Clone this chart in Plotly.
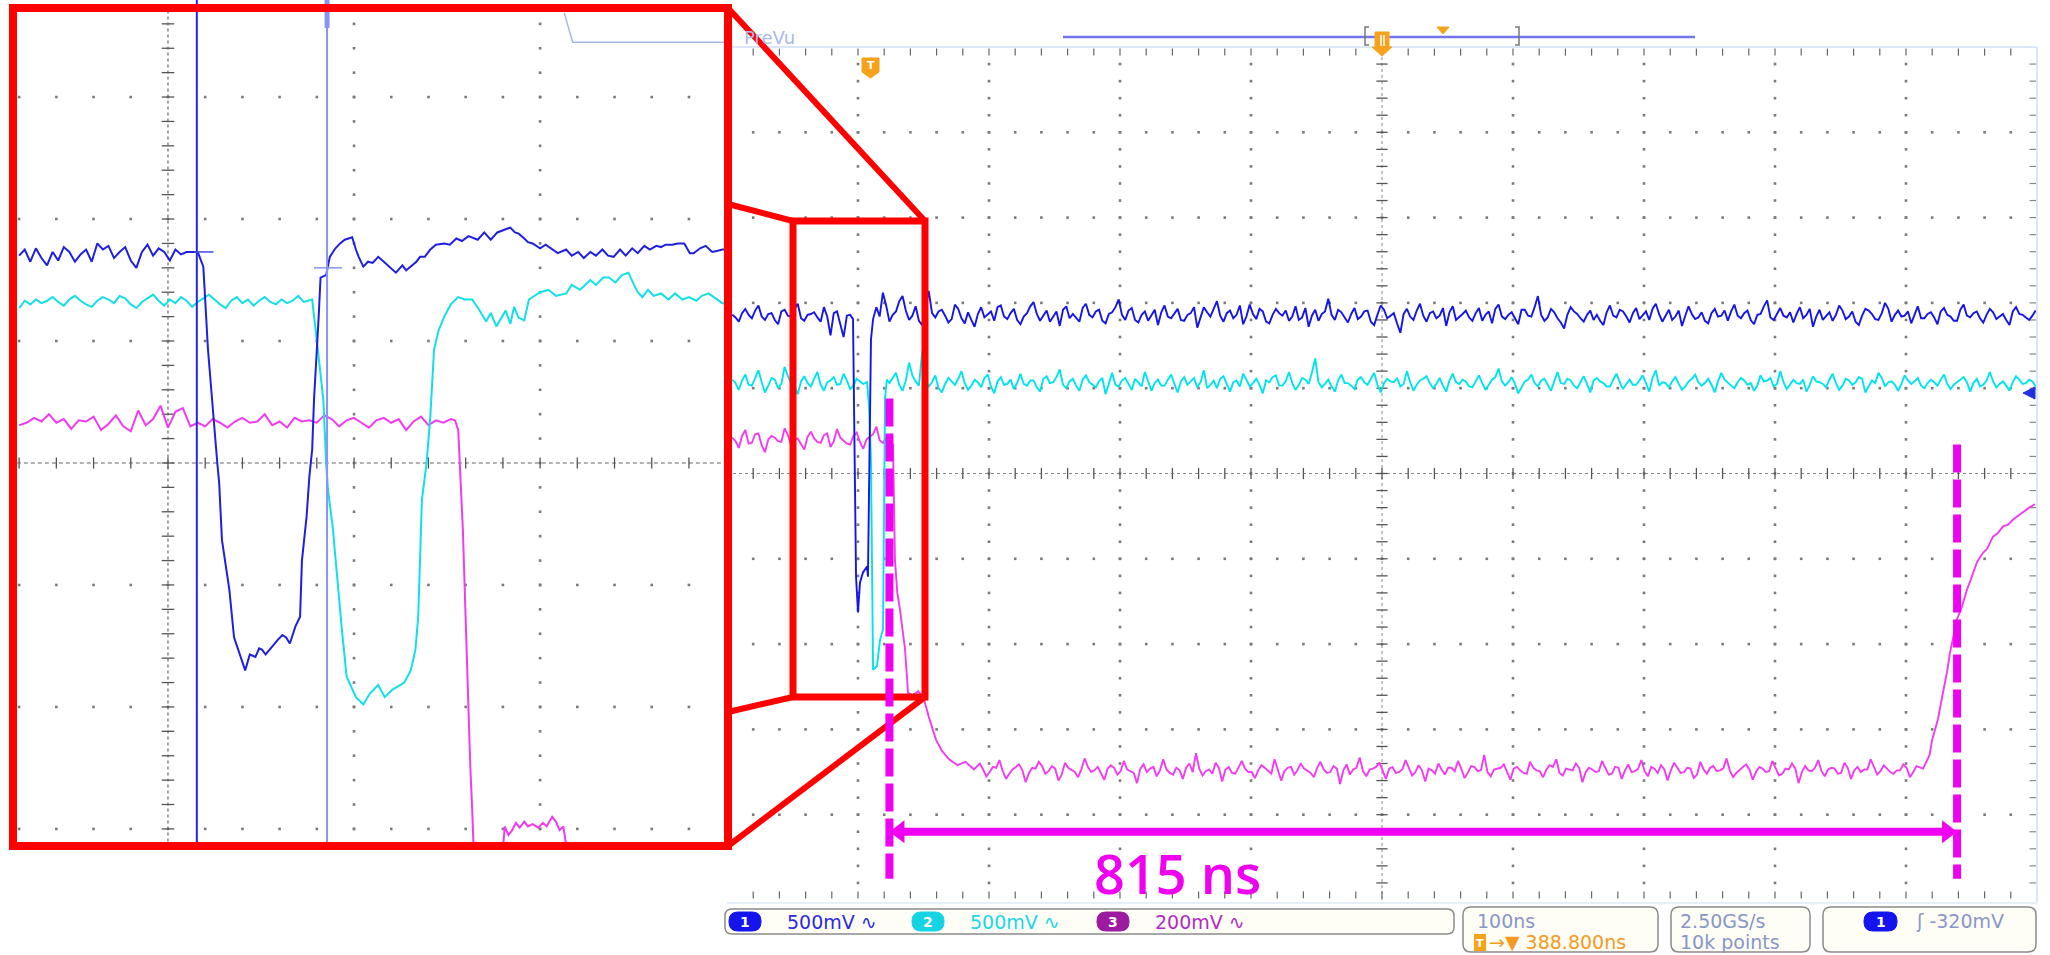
import numpy as np
import plotly.graph_objects as go

W, H = 2050, 955

# ================= DATA : main screen (100 ns/div, vertical in screen divisions) =================
# each noisy segment: samples at start + i*step, plus mid-samples at start + i*step + step/2
ch1_pre_start, ch1_pre_step = 4, 5
ch1_pre = [1.86, 1.78, 1.93, 1.82, 1.97, 1.80, 1.88, 1.75, 1.92, 1.84, 1.99, 1.79, 1.87, 1.83, 1.95,
           1.62, 1.90, 1.60, 1.86]
ch1_pre_mid = [1.83, 1.88, 1.86, 1.91, 1.84, 1.87, 1.80, 1.90, 1.85, 1.93, 1.82, 1.86, 1.89, 1.78, 1.84,
               1.88, 1.74, 1.85]
ch1_dip = [(96.2, 1.81), (97.7, 0.13), (98.5, -1.21), (100.0, -1.63), (101.5, -1.28), (103.8, -1.16),
           (106.9, -1.09), (107.6, -1.21), (109.2, 0.87), (109.9, 1.57), (111.5, 1.81)]
ch1_post_start, ch1_post_step = 114, 5
ch1_post = [1.95, 2.12, 1.78, 1.90, 2.08, 1.80, 1.96, 1.74, 2.14, 1.83,
            1.92, 1.77, 1.98, 1.82, 1.89, 1.72, 1.95, 1.86, 1.79, 1.97,
            1.81, 1.93, 1.75, 1.88, 2.01, 1.79, 1.91, 1.84, 1.73, 1.96,
            1.87, 1.78, 1.99, 1.83, 1.92, 1.76, 1.89, 2.04, 1.80, 1.94,
            1.77, 1.90, 1.85, 1.74, 1.97, 1.82, 1.93, 1.79, 1.88, 1.71,
            1.95, 1.84, 2.02, 1.78, 1.91, 1.86, 1.75, 1.98, 1.81, 1.90,
            1.76, 1.93, 1.85, 1.79, 1.96, 1.83, 1.72, 1.92, 1.87, 2.05,
            1.80, 1.89, 1.77, 1.94, 1.84, 1.91, 1.74, 1.97, 1.82, 1.88,
            1.65, 1.93, 1.80, 1.99, 1.78, 1.90, 1.85, 1.73, 1.96, 1.83,
            1.91, 1.79, 1.94, 1.86, 1.76, 1.98, 1.81, 1.89, 1.75, 1.92,
            1.84, 2.08, 1.79, 1.93, 1.82, 1.70, 1.95, 1.87, 1.78, 1.91,
            1.86, 1.74, 1.97, 1.83, 1.90, 1.77, 1.94, 1.85, 1.80, 1.99,
            1.78, 1.92, 1.84, 1.73, 1.96, 1.81, 1.89, 1.76, 1.93, 1.85,
            1.79, 1.98, 1.82, 1.91, 1.75, 1.87, 2.03, 1.80, 1.94, 1.83,
            1.77, 1.95, 1.86, 1.72, 1.92, 1.84, 1.79, 1.97, 1.81, 1.90,
            1.74, 1.93, 1.87, 1.80, 2.00, 1.78, 1.91, 1.85, 1.76, 1.96,
            1.82, 1.89, 1.75, 1.94, 1.84, 1.79, 1.98, 1.83, 1.90, 1.77,
            1.93, 1.81, 1.87, 1.74, 1.95, 1.86, 1.80, 1.91]
ch1_post_mid = [1.84, 1.97, 1.86, 2.02, 1.91, 1.85, 1.79, 1.94, 1.88, 1.90,
                1.85, 1.81, 1.93, 1.76, 1.80, 1.87, 1.83, 1.90, 1.95, 1.84,
                1.88, 1.80, 1.84, 1.96, 1.87, 1.85, 1.78, 1.90, 1.92, 1.82,
                1.83, 1.94, 1.86, 1.90, 1.79, 1.87, 1.95, 1.86, 1.91, 1.80,
                1.86, 1.79, 1.92, 1.89, 1.84, 1.88, 1.80, 1.86, 1.95, 1.83,
                1.89, 1.93, 1.85, 1.88, 1.82, 1.97, 1.84, 1.87, 1.93, 1.78,
                1.86, 1.88, 1.91, 1.84, 1.80, 1.94, 1.85, 1.79, 1.90, 1.86,
                1.92, 1.83, 1.87, 1.81, 1.90, 1.78, 1.86, 1.92, 1.85, 1.76,
                1.87, 1.84, 1.91, 1.85, 1.88, 1.82, 1.94, 1.89, 1.80, 1.87,
                1.83, 1.88, 1.79, 1.90, 1.93, 1.84, 1.86, 1.81, 1.92, 1.85,
                1.95, 1.86, 1.83, 1.89, 1.77, 1.86, 1.90, 1.82, 1.86, 1.80,
                1.79, 1.89, 1.85, 1.92, 1.84, 1.88, 1.81, 1.90, 1.93, 1.87,
                1.86, 1.80, 1.91, 1.85, 1.87, 1.83, 1.79, 1.88, 1.84, 1.91,
                1.90, 1.85, 1.88, 1.80, 1.86, 1.96, 1.83, 1.87, 1.85, 1.89,
                1.87, 1.82, 1.93, 1.84, 1.80, 1.89, 1.86, 1.91, 1.84, 1.78,
                1.85, 1.91, 1.81, 1.88, 1.93, 1.86, 1.84, 1.90, 1.87, 1.82,
                1.87, 1.83, 1.90, 1.86, 1.79, 1.92, 1.85, 1.88, 1.82, 1.86,
                1.89, 1.84, 1.80, 1.90, 1.87, 1.83, 1.85]

ch2_pre_start, ch2_pre_step = 4, 5
ch2_pre = [1.10, 0.98, 1.16, 1.03, 1.21, 0.95, 1.12, 1.00, 1.25, 1.06, 0.93, 1.14, 1.02, 1.19, 0.97,
           1.09, 1.04, 1.17, 0.99, 1.11, 1.05]
ch2_pre_mid = [1.06, 1.09, 1.04, 1.12, 1.07, 1.03, 1.10, 1.05, 1.14, 1.02, 1.08, 1.06, 1.11, 1.04, 1.07,
               1.13, 1.05, 1.09, 1.03, 1.08]
ch2_dip = [(106.9, 1.07), (108.4, 0.79), (109.9, 0.16), (110.7, -1.68), (111.5, -2.30), (114.5, -2.26),
           (116.8, -1.95), (119.1, -1.83), (119.8, 0.08), (120.6, 0.87), (122.0, 1.10)]
ch2_post_start, ch2_post_step = 124, 5
ch2_post = [1.06, 1.18, 0.97, 1.30, 1.08, 1.43, 1.02, 1.15, 0.95, 1.12,
            1.04, 1.20, 0.98, 1.10, 1.01, 1.16, 0.94, 1.13, 1.05, 0.99,
            1.17, 1.03, 1.09, 0.96, 1.14, 1.07, 1.22, 1.00, 1.11, 0.97,
            1.15, 1.04, 1.08, 0.93, 1.18, 1.02, 1.12, 0.98, 1.06, 1.19,
            0.97, 1.10, 1.03, 1.16, 0.95, 1.13, 1.08, 1.01, 1.21, 1.04,
            1.00, 1.14, 0.96, 1.09, 1.17, 1.02, 1.11, 0.94, 1.07, 1.15,
            1.03, 1.19, 0.98, 1.12, 1.05, 1.35, 1.01, 1.10, 0.96, 1.16,
            1.06, 0.99, 1.13, 1.04, 1.18, 0.95, 1.11, 1.07, 1.02, 1.20,
            0.97, 1.09, 1.14, 1.00, 1.12, 0.96, 1.17, 1.05, 1.08, 1.01,
            1.15, 0.98, 1.10, 1.23, 1.03, 1.13, 0.94, 1.08, 1.16, 1.02,
            1.11, 0.97, 1.19, 1.05, 1.09, 1.00, 1.14, 0.95, 1.12, 1.06,
            1.02, 1.17, 0.99, 1.10, 1.04, 1.15, 0.96, 1.21, 1.07, 1.01,
            1.13, 0.98, 1.08, 1.16, 1.03, 1.11, 0.95, 1.18, 1.06, 1.00,
            1.12, 1.04, 0.97, 1.15, 1.09, 1.02, 1.20, 0.99, 1.10, 1.05,
            0.96, 1.14, 1.07, 1.01, 1.17, 0.98, 1.11, 1.04, 1.13, 0.95,
            1.09, 1.18, 1.02, 1.08, 0.97, 1.15, 1.05, 1.12, 1.00, 1.10,
            1.03, 1.16, 0.99, 1.07, 1.13, 0.96, 1.11, 1.04, 1.19, 1.01,
            1.08, 0.97, 1.14, 1.05, 1.10, 1.02]
ch2_post_mid = [1.12, 1.04, 1.09, 1.15, 1.03, 1.10, 1.07, 1.00, 1.05, 1.08,
                1.11, 1.06, 1.03, 1.07, 1.12, 1.02, 1.08, 1.04, 1.10, 1.06,
                1.05, 1.09, 1.01, 1.11, 1.06, 1.13, 1.04, 1.08, 1.03, 1.10,
                1.07, 1.01, 1.12, 1.06, 1.04, 1.09, 1.05, 1.11, 1.02, 1.08,
                1.06, 1.03, 1.10, 1.05, 1.08, 1.04, 1.12, 1.07, 1.00, 1.09,
                1.11, 1.05, 1.07, 1.02, 1.10, 1.06, 1.04, 1.09, 1.13, 1.03,
                1.08, 1.06, 1.04, 1.10, 1.18, 1.07, 1.05, 1.02, 1.09, 1.06,
                1.03, 1.10, 1.07, 1.11, 1.04, 1.06, 1.08, 1.12, 1.05, 1.07,
                1.04, 1.11, 1.06, 1.05, 1.03, 1.09, 1.07, 1.10, 1.02, 1.08,
                1.06, 1.04, 1.13, 1.08, 1.07, 1.05, 1.01, 1.10, 1.06, 1.09,
                1.04, 1.08, 1.06, 1.11, 1.03, 1.07, 1.05, 1.09, 1.08, 1.02,
                1.10, 1.07, 1.05, 1.04, 1.09, 1.06, 1.12, 1.03, 1.06, 1.08,
                1.05, 1.02, 1.11, 1.07, 1.06, 1.04, 1.08, 1.10, 1.03, 1.07,
                1.09, 1.06, 1.03, 1.08, 1.12, 1.05, 1.07, 1.04, 1.06, 1.10,
                1.04, 1.08, 1.05, 1.10, 1.06, 1.03, 1.09, 1.07, 1.11, 1.02,
                1.06, 1.12, 1.07, 1.04, 1.05, 1.09, 1.08, 1.03, 1.06, 1.07,
                1.10, 1.05, 1.04, 1.11, 1.07, 1.06, 1.02, 1.09, 1.08, 1.05,
                1.03, 1.07, 1.10, 1.06, 1.08]

ch3_pre_start, ch3_pre_step = 4, 5
ch3_pre = [0.42, 0.30, 0.51, 0.36, 0.47, 0.25, 0.44, 0.38, 0.53, 0.33, 0.41, 0.28, 0.49, 0.37, 0.45,
           0.31, 0.52, 0.39, 0.34, 0.48, 0.29, 0.43, 0.55, 0.36, 0.40]
ch3_pre_mid = [0.38, 0.44, 0.35, 0.46, 0.33, 0.40, 0.42, 0.37, 0.45, 0.39, 0.34, 0.43, 0.41, 0.36, 0.47,
               0.38, 0.42, 0.35, 0.44, 0.37, 0.40, 0.46, 0.39, 0.41]
ch3_fall = [(126.7, 0.34), (128.2, -1.01), (130.0, -1.40), (132.0, -1.59), (133.6, -1.79), (135.9, -2.06),
            (138.2, -2.57), (142.0, -2.60), (146.0, -2.55), (150.4, -2.65), (154.0, -2.85), (159.5, -3.12),
            (164.0, -3.25), (169.5, -3.35), (176.0, -3.42), (182.0, -3.38), (188.5, -3.47)]
ch3_low_start, ch3_low_step = 193, 5
ch3_low = [-3.40, -3.55, -3.44, -3.36, -3.58, -3.47, -3.41, -3.62, -3.45, -3.38,
           -3.52, -3.43, -3.60, -3.39, -3.48, -3.56, -3.34, -3.50, -3.44, -3.59,
           -3.42, -3.53, -3.37, -3.49, -3.63, -3.41, -3.46, -3.55, -3.35, -3.51,
           -3.45, -3.58, -3.40, -3.28, -3.54, -3.47, -3.39, -3.61, -3.44, -3.52,
           -3.37, -3.50, -3.57, -3.42, -3.48, -3.35, -3.60, -3.45, -3.53, -3.40,
           -3.49, -3.56, -3.38, -3.51, -3.43, -3.64, -3.41, -3.47, -3.33, -3.55,
           -3.46, -3.39, -3.58, -3.44, -3.50, -3.36, -3.54, -3.42, -3.61, -3.48,
           -3.40, -3.53, -3.45, -3.37, -3.57, -3.43, -3.49, -3.30, -3.55, -3.46,
           -3.41, -3.59, -3.44, -3.51, -3.38, -3.48, -3.56, -3.42, -3.35, -3.54,
           -3.47, -3.40, -3.62, -3.45, -3.50, -3.37, -3.53, -3.44, -3.58, -3.41,
           -3.49, -3.36, -3.55, -3.46, -3.42, -3.60, -3.39, -3.51, -3.45, -3.57,
           -3.38, -3.52, -3.43, -3.48, -3.34, -3.56, -3.47, -3.41, -3.59, -3.44,
           -3.50, -3.37, -3.54, -3.46, -3.40, -3.63, -3.43, -3.49, -3.36, -3.55,
           -3.45, -3.52, -3.39, -3.58, -3.44, -3.47, -3.35, -3.53, -3.42, -3.50,
           -3.48, -3.41, -3.56, -3.43]
ch3_low_mid = [-3.47, -3.50, -3.45, -3.49, -3.52, -3.44, -3.48, -3.51, -3.46, -3.43,
               -3.49, -3.46, -3.53, -3.45, -3.50, -3.47, -3.44, -3.48, -3.52, -3.46,
               -3.45, -3.49, -3.47, -3.51, -3.46, -3.50, -3.44, -3.48, -3.47, -3.53,
               -3.48, -3.45, -3.50, -3.46, -3.49, -3.52, -3.45, -3.47, -3.51, -3.44,
               -3.46, -3.50, -3.48, -3.45, -3.52, -3.47, -3.49, -3.44, -3.48, -3.46,
               -3.51, -3.45, -3.47, -3.50, -3.46, -3.48, -3.53, -3.45, -3.49, -3.47,
               -3.44, -3.49, -3.46, -3.51, -3.47, -3.45, -3.50, -3.48, -3.46, -3.52,
               -3.47, -3.45, -3.49, -3.46, -3.51, -3.44, -3.48, -3.50, -3.47, -3.45,
               -3.50, -3.46, -3.48, -3.52, -3.45, -3.49, -3.47, -3.44, -3.51, -3.46,
               -3.48, -3.45, -3.50, -3.47, -3.49, -3.46, -3.52, -3.45, -3.48, -3.50,
               -3.46, -3.49, -3.44, -3.51, -3.47, -3.48, -3.45, -3.50, -3.46, -3.53,
               -3.47, -3.45, -3.49, -3.46, -3.48, -3.51, -3.44, -3.47, -3.50, -3.46,
               -3.49, -3.45, -3.52, -3.47, -3.46, -3.50, -3.48, -3.45, -3.49, -3.47,
               -3.46, -3.51, -3.45, -3.48, -3.50, -3.47, -3.44, -3.49, -3.46, -3.52,
               -3.48, -3.45, -3.50]
ch3_rise = [(913.0, -3.46), (918.0, -3.30), (920.0, -3.12), (924.4, -2.88), (928.2, -2.57), (931.3, -2.33),
            (933.6, -2.10), (938.9, -1.71), (942.7, -1.56), (946.6, -1.36), (950.0, -1.22), (954.2, -1.04),
            (958.8, -0.93), (962.0, -0.88), (966.4, -0.74), (970.0, -0.70), (974.0, -0.62), (978.0, -0.60),
            (981.7, -0.54), (985.0, -0.50), (989.3, -0.45), (994.0, -0.40), (998.5, -0.36)]

pulse_start_ns, pulse_end_ns = 124, 939
pulse_label = "815 ns"

# ================= DATA : zoomed inset (20 ns/div, vertical in inset divisions) =================
in1_pre_start, in1_pre_step = 84.0, 0.6
in1_pre = [1.70, 1.75, 1.65, 1.76, 1.68, 1.62, 1.73, 1.66, 1.77, 1.73, 1.65, 1.71, 1.75, 1.65, 1.80,
           1.75, 1.78, 1.68, 1.73, 1.77, 1.66, 1.60, 1.73, 1.79, 1.70, 1.76, 1.73, 1.66, 1.75, 1.71, 1.73]
in1_rest = [(103.2, 1.73), (103.8, 1.61), (104.3, 0.93), (105.3, 0.00), (105.5, -0.16), (105.8, -0.63),
            (106.6, -1.04), (107.1, -1.43), (107.8, -1.59), (108.3, -1.70), (108.8, -1.57), (109.4, -1.59),
            (109.8, -1.52), (110.1, -1.53), (110.5, -1.57), (110.9, -1.53), (111.3, -1.49), (111.8, -1.45),
            (112.3, -1.41), (112.7, -1.43), (113.1, -1.48), (113.7, -1.34), (114.2, -1.26), (114.4, -0.80),
            (114.9, -0.44), (115.2, -0.11), (115.5, 0.11), (115.7, 0.52), (116.2, 1.20), (116.4, 1.52),
            (117.0, 1.54), (117.4, 1.69), (118.0, 1.76), (118.5, 1.80), (119.0, 1.83), (119.8, 1.85),
            (120.2, 1.75), (120.5, 1.69), (121.0, 1.61), (121.5, 1.65), (122.0, 1.64), (122.6, 1.69),
            (123.2, 1.65), (123.9, 1.60), (124.5, 1.56), (125.2, 1.62), (125.6, 1.58), (126.1, 1.61),
            (126.7, 1.65), (127.1, 1.69), (127.6, 1.69), (128.2, 1.75), (128.8, 1.79), (129.7, 1.80),
            (130.3, 1.79), (131.0, 1.84), (131.6, 1.82), (132.3, 1.86), (132.7, 1.85), (133.3, 1.83),
            (134.0, 1.89), (134.7, 1.83), (135.4, 1.89), (136.0, 1.91), (136.8, 1.93), (137.3, 1.89),
            (137.7, 1.88), (138.3, 1.84), (138.7, 1.81), (139.2, 1.80), (140.0, 1.76), (140.6, 1.79),
            (141.3, 1.75), (141.9, 1.72), (142.8, 1.75), (143.4, 1.70), (144.1, 1.73), (144.7, 1.68),
            (145.4, 1.73), (146.0, 1.70), (146.7, 1.75), (147.3, 1.70), (147.9, 1.69), (148.6, 1.75),
            (149.2, 1.70), (149.9, 1.76), (150.5, 1.72), (151.2, 1.78), (151.8, 1.75), (152.5, 1.78),
            (153.0, 1.77), (153.5, 1.79), (154.2, 1.79), (154.8, 1.80), (155.5, 1.80), (156.1, 1.72),
            (156.5, 1.72), (157.2, 1.76), (157.8, 1.78), (158.5, 1.73), (159.1, 1.74), (159.6, 1.75),
            (160.3, 1.75)]

in2_pre_start, in2_pre_step = 84.0, 0.6
in2_pre = [1.27, 1.33, 1.30, 1.34, 1.31, 1.33, 1.36, 1.32, 1.29, 1.34,
           1.37, 1.33, 1.30, 1.28, 1.33, 1.36, 1.34, 1.31, 1.37, 1.35,
           1.30, 1.27, 1.32, 1.35, 1.38, 1.33, 1.29, 1.34, 1.31, 1.36,
           1.33, 1.28, 1.32, 1.35, 1.38, 1.34, 1.30, 1.27, 1.33, 1.36,
           1.31, 1.34, 1.29, 1.33, 1.36, 1.32, 1.30, 1.34, 1.31, 1.33,
           1.37, 1.32]
in2_rest = [(115.5, 1.34), (115.9, 1.07), (116.7, 0.52), (117.0, 0.00), (117.2, -0.22), (117.7, -0.52),
            (118.2, -0.98), (118.7, -1.37), (119.2, -1.75), (120.2, -1.92), (121.0, -1.98), (121.7, -1.89),
            (122.6, -1.82), (123.3, -1.92), (124.1, -1.86), (124.7, -1.83), (125.4, -1.80), (126.1, -1.70),
            (126.6, -1.53), (126.9, -1.26), (127.1, -0.71), (127.3, -0.30), (127.8, 0.00), (128.2, 0.38),
            (128.6, 0.93), (129.1, 1.09), (129.7, 1.20), (130.4, 1.30), (131.2, 1.36), (131.9, 1.34),
            (132.7, 1.34), (133.5, 1.25), (134.2, 1.16), (134.7, 1.23), (135.3, 1.12), (135.7, 1.17),
            (136.3, 1.25), (136.8, 1.14), (137.2, 1.28), (137.7, 1.19), (138.3, 1.17), (138.8, 1.34),
            (139.2, 1.36), (140.0, 1.40), (140.9, 1.42), (141.7, 1.37), (142.8, 1.39), (143.4, 1.46),
            (144.3, 1.42), (145.4, 1.50), (146.0, 1.46), (146.8, 1.52), (147.4, 1.52), (148.1, 1.48),
            (148.8, 1.54), (149.5, 1.56), (150.1, 1.46), (150.5, 1.40), (151.0, 1.36), (151.6, 1.42),
            (152.2, 1.37), (153.0, 1.39), (153.8, 1.34), (154.5, 1.39), (155.3, 1.34), (156.0, 1.36),
            (156.8, 1.33), (157.4, 1.37), (158.1, 1.39), (158.8, 1.35), (159.6, 1.31), (160.3, 1.31)]

in3_pre_start, in3_pre_step = 84.0, 0.8
in3_pre = [0.31, 0.33, 0.37, 0.34, 0.40, 0.33, 0.36, 0.28, 0.35, 0.34,
           0.38, 0.27, 0.32, 0.39, 0.30, 0.26, 0.43, 0.31, 0.36, 0.47,
           0.29, 0.42, 0.45, 0.30, 0.33, 0.30, 0.36, 0.33, 0.29, 0.34,
           0.37, 0.33, 0.34, 0.40, 0.31, 0.34, 0.29, 0.37, 0.34, 0.35,
           0.33, 0.39, 0.36, 0.30, 0.35, 0.37, 0.33, 0.29, 0.35, 0.37,
           0.33, 0.36, 0.27, 0.34, 0.38, 0.31, 0.35, 0.33, 0.36]
in3_fall = [(130.85, 0.35), (131.2, 0.27), (131.4, -0.06), (131.7, -0.55), (131.9, -1.04), (132.1, -1.59),
            (132.5, -2.49), (132.7, -2.84), (132.9, -3.25)]
in3_tail = [(136.0, -3.17), (136.2, -2.98), (136.6, -3.05), (137.0, -3.01), (137.4, -2.95), (137.8, -2.99),
            (138.3, -2.94), (138.7, -2.98), (139.2, -2.96), (139.8, -2.99), (140.3, -2.95), (140.7, -2.98),
            (141.3, -2.90), (141.7, -2.94), (142.1, -3.01), (142.5, -2.98), (142.8, -3.13), (142.9, -3.25)]

in_cursor_a, in_cursor_b = 103.1, 117.1
in_cursor_ticks = [(102.8, 104.9, 1.73), (115.7, 118.7, 1.60)]
in_prevu = [(142.6, 3.69), (143.5, 3.45), (160.3, 3.45)]

status_ch = [("1", "500mV \u223f"), ("2", "500mV \u223f"), ("3", "200mV \u223f")]
status_time = ("100ns", "388.800ns")
status_rate = ("2.50GS/s", "10k points")
status_trig = ("1", "\u0283 -320mV")

# ================= colours =================
C1, C2, C3 = "#1515e6", "#00e4ee", "#f23cf2"
C1_IN, C2_IN, C3_IN = "#1f1fe0", "#12dfe8", "#f03cf0"
MAG = "#f000f0"
RED = "#ff0000"
GRID = "#7a7a7a"


def X(px):
    return px / W


def Y(py):
    return 1 - py / H


def seg(start, step, vals, mids=()):
    xs, ys = [], []
    for i, v in enumerate(vals):
        xs.append(start + i * step); ys.append(v)
        if i < len(mids):
            xs.append(start + i * step + step / 2); ys.append(mids[i])
    return xs, ys


def pairs(lst):
    return [p[0] for p in lst], [p[1] for p in lst]


def join(*parts):
    xs, ys = [], []
    for a, b in parts:
        xs += a
        ys += b
    return xs, ys


fig = go.Figure()

# ---------------- main graticule ----------------
minor_y = np.round(np.arange(-5, 5.0001, 0.2), 3)
minor_x = np.arange(0, 1000.1, 20)
gx, gy = [], []
for cx in range(100, 1000, 100):
    if cx == 500:
        continue
    for yy in minor_y[1:-1]:
        gx.append(cx); gy.append(yy)
for ry in [-4, -3, -2, -1, 1, 2, 3, 4]:
    for xx in minor_x[1:-1]:
        gx.append(xx); gy.append(ry)
fig.add_trace(go.Scatter(x=gx, y=gy, mode="markers", xaxis="x", yaxis="y",
                         marker=dict(size=2.6, color=GRID, symbol="square"), hoverinfo="skip"))
fig.add_trace(go.Scatter(x=list(minor_x[1:-1]), y=[0] * (len(minor_x) - 2), mode="markers",
                         marker=dict(symbol="line-ns", size=8, line=dict(width=1.3, color="#555")),
                         hoverinfo="skip"))
fig.add_trace(go.Scatter(x=[500] * (len(minor_y) - 2), y=list(minor_y[1:-1]), mode="markers",
                         marker=dict(symbol="line-ew", size=8, line=dict(width=1.3, color="#555")),
                         hoverinfo="skip"))
fig.add_trace(go.Scatter(x=list(minor_x[1:-1]) * 2, y=[4.94] * (len(minor_x) - 2) + [-4.94] * (len(minor_x) - 2),
                         mode="markers",
                         marker=dict(symbol="line-ns", size=5, line=dict(width=1.2, color="#666")),
                         hoverinfo="skip"))
fig.add_trace(go.Scatter(x=[997] * (len(minor_y) - 2), y=list(minor_y[1:-1]), mode="markers",
                         marker=dict(symbol="line-ew", size=5, line=dict(width=1.2, color="#888")),
                         hoverinfo="skip"))

# ---------------- main traces ----------------
t1, v1 = join(seg(ch1_pre_start, ch1_pre_step, ch1_pre, ch1_pre_mid), pairs(ch1_dip),
              seg(ch1_post_start, ch1_post_step, ch1_post, ch1_post_mid))
t2, v2 = join(seg(ch2_pre_start, ch2_pre_step, ch2_pre, ch2_pre_mid), pairs(ch2_dip),
              seg(ch2_post_start, ch2_post_step, ch2_post, ch2_post_mid))
t3, v3 = join(seg(ch3_pre_start, ch3_pre_step, ch3_pre, ch3_pre_mid), pairs(ch3_fall),
              seg(ch3_low_start, ch3_low_step, ch3_low, ch3_low_mid), pairs(ch3_rise))
fig.add_trace(go.Scatter(x=t3, y=v3, mode="lines", line=dict(color=C3, width=1.9), hoverinfo="skip"))
fig.add_trace(go.Scatter(x=t2, y=v2, mode="lines", line=dict(color=C2, width=1.9), hoverinfo="skip"))
fig.add_trace(go.Scatter(x=t1, y=v1, mode="lines", line=dict(color=C1, width=1.9), hoverinfo="skip"))

# ---------------- inset graticule ----------------
in_minor_y = np.round(np.arange(-3.0, 3.61, 0.2), 3)
in_minor_x = np.arange(84, 160.1, 4)
ix, iy = [], []
for cx in [120, 140]:
    for yy in in_minor_y:
        ix.append(cx); iy.append(yy)
for ry in [-3, -2, -1, 1, 2, 3]:
    for xx in in_minor_x:
        ix.append(xx); iy.append(ry)
fig.add_trace(go.Scatter(x=ix, y=iy, mode="markers", xaxis="x2", yaxis="y2",
                         marker=dict(size=2.6, color=GRID, symbol="square"), hoverinfo="skip"))
fig.add_trace(go.Scatter(x=list(in_minor_x), y=[0] * len(in_minor_x), mode="markers", xaxis="x2", yaxis="y2",
                         marker=dict(symbol="line-ns", size=8, line=dict(width=1.3, color="#555")),
                         hoverinfo="skip"))
fig.add_trace(go.Scatter(x=[100] * len(in_minor_y), y=list(in_minor_y), mode="markers", xaxis="x2", yaxis="y2",
                         marker=dict(symbol="line-ew", size=9, line=dict(width=1.3, color="#555")),
                         hoverinfo="skip"))

# ---------------- inset traces ----------------
a1 = join(seg(in1_pre_start, in1_pre_step, in1_pre), pairs(in1_rest))
a2 = join(seg(in2_pre_start, in2_pre_step, in2_pre), pairs(in2_rest))
a3 = join(seg(in3_pre_start, in3_pre_step, in3_pre), pairs(in3_fall))
a3t = pairs(in3_tail)
for (xx, yy), col in [(a3, C3_IN), (a3t, C3_IN), (a2, C2_IN), (a1, C1_IN)]:
    fig.add_trace(go.Scatter(x=xx, y=yy, mode="lines", xaxis="x2", yaxis="y2",
                             line=dict(color=col, width=2), hoverinfo="skip"))

shapes = []
shapes.append(dict(type="line", xref="x", yref="y", x0=0, x1=1000, y0=0, y1=0,
                   line=dict(color="#888", width=1, dash="3px,3px"), layer="below"))
shapes.append(dict(type="line", xref="x", yref="y", x0=500, x1=500, y0=-5, y1=5,
                   line=dict(color="#888", width=1, dash="3px,3px"), layer="below"))
shapes.append(dict(type="line", xref="x2", yref="y2", x0=83, x1=161, y0=0, y1=0,
                   line=dict(color="#666", width=1.2, dash="4px,3px"), layer="below"))
shapes.append(dict(type="line", xref="x2", yref="y2", x0=100, x1=100, y0=-3.3, y1=3.9,
                   line=dict(color="#666", width=1.2, dash="3px,3px"), layer="below"))
shapes.append(dict(type="line", xref="paper", yref="paper", x0=X(727), x1=X(2037), y0=Y(47), y1=Y(47),
                   line=dict(color="#dbe6f6", width=2)))
shapes.append(dict(type="line", xref="paper", yref="paper", x0=X(2037), x1=X(2037), y0=Y(47), y1=Y(902),
                   line=dict(color="#dbe6f6", width=2)))
shapes.append(dict(type="line", xref="paper", yref="paper", x0=X(727), x1=X(2037), y0=Y(903), y1=Y(903),
                   line=dict(color="#e6eef9", width=2)))

shapes.append(dict(type="line", xref="x2", yref="paper", x0=in_cursor_a, x1=in_cursor_a, y0=Y(846), y1=Y(0),
                   line=dict(color="#2626e6", width=2)))
shapes.append(dict(type="line", xref="x2", yref="paper", x0=in_cursor_b, x1=in_cursor_b, y0=Y(846), y1=Y(0),
                   line=dict(color="#8794f2", width=2)))
shapes.append(dict(type="line", xref="x2", yref="paper", x0=in_cursor_b, x1=in_cursor_b, y0=Y(28), y1=Y(0),
                   line=dict(color="#8794f2", width=5)))
shapes.append(dict(type="line", xref="x2", yref="y2", x0=in_cursor_ticks[0][0], x1=in_cursor_ticks[0][1],
                   y0=in_cursor_ticks[0][2], y1=in_cursor_ticks[0][2], line=dict(color="#4a4ae8", width=1.5)))
shapes.append(dict(type="line", xref="x2", yref="y2", x0=in_cursor_ticks[1][0], x1=in_cursor_ticks[1][1],
                   y0=in_cursor_ticks[1][2], y1=in_cursor_ticks[1][2], line=dict(color="#8794f2", width=1.5)))
pv = " ".join(("M" if i == 0 else "L") + f"{p[0]},{p[1]}" for i, p in enumerate(in_prevu))
shapes.append(dict(type="path", xref="x2", yref="y2", path=pv, line=dict(color="#a9b6ea", width=1.5)))

shapes.append(dict(type="rect", xref="paper", yref="paper", x0=X(13), x1=X(728), y0=Y(846), y1=Y(8),
                   line=dict(color=RED, width=8)))
shapes.append(dict(type="rect", xref="paper", yref="paper", x0=X(793), x1=X(925), y0=Y(697), y1=Y(221),
                   line=dict(color=RED, width=7)))
for (xa, ya, xb, yb) in [(728, 8, 925, 221), (728, 204, 793, 221), (728, 712, 793, 697), (728, 846, 925, 697)]:
    shapes.append(dict(type="line", xref="paper", yref="paper", x0=X(xa), y0=Y(ya), x1=X(xb), y1=Y(yb),
                       line=dict(color=RED, width=6)))

shapes.append(dict(type="line", xref="x", yref="y", x0=pulse_start_ns, x1=pulse_start_ns, y0=0.88, y1=-4.75,
                   line=dict(color=MAG, width=8, dash="28px,7px")))
shapes.append(dict(type="line", xref="x", yref="y", x0=pulse_end_ns, x1=pulse_end_ns, y0=0.34, y1=-4.75,
                   line=dict(color=MAG, width=8, dash="28px,7px")))
head_ns = 10 / 1.31
shapes.append(dict(type="line", xref="x", yref="y", x0=pulse_start_ns + head_ns, x1=pulse_end_ns - head_ns,
                   y0=-4.20, y1=-4.20, line=dict(color=MAG, width=8)))

shapes.append(dict(type="line", xref="paper", yref="paper", x0=X(1063), x1=X(1695), y0=Y(37), y1=Y(37),
                   line=dict(color="#7474ee", width=2.5)))
shapes.append(dict(type="path", xref="paper", yref="paper",
                   path=f"M{X(1369)},{Y(27)} L{X(1365)},{Y(27)} L{X(1365)},{Y(45)} L{X(1369)},{Y(45)}",
                   line=dict(color="#777", width=1.5)))
shapes.append(dict(type="path", xref="paper", yref="paper",
                   path=f"M{X(1515)},{Y(27)} L{X(1519)},{Y(27)} L{X(1519)},{Y(45)} L{X(1515)},{Y(45)}",
                   line=dict(color="#777", width=1.5)))
shapes.append(dict(type="path", xref="paper", yref="paper",
                   path=f"M{X(1375)},{Y(32)} L{X(1389)},{Y(32)} L{X(1389)},{Y(47)} L{X(1392)},{Y(47)} "
                        f"L{X(1382)},{Y(56)} L{X(1372)},{Y(47)} L{X(1375)},{Y(47)} Z",
                   fillcolor="#f7a21b", line=dict(color="#f7a21b", width=1)))
shapes.append(dict(type="line", xref="paper", yref="paper", x0=X(1381), x1=X(1381), y0=Y(35), y1=Y(46),
                   line=dict(color="white", width=1.5)))
shapes.append(dict(type="line", xref="paper", yref="paper", x0=X(1384), x1=X(1384), y0=Y(35), y1=Y(46),
                   line=dict(color="white", width=1.5)))
shapes.append(dict(type="path", xref="paper", yref="paper",
                   path=f"M{X(1437)},{Y(27)} L{X(1449)},{Y(27)} L{X(1443)},{Y(34)} Z",
                   fillcolor="#f7a21b", line=dict(color="#f7a21b", width=1)))
shapes.append(dict(type="path", xref="paper", yref="paper",
                   path=f"M{X(862)},{Y(58)} L{X(879)},{Y(58)} L{X(879)},{Y(72)} L{X(870.5)},{Y(78)} "
                        f"L{X(862)},{Y(72)} Z",
                   fillcolor="#f7a21b", line=dict(color="#f7a21b", width=1)))
shapes.append(dict(type="path", xref="paper", yref="paper",
                   path=f"M{X(2023)},{Y(393)} L{X(2035)},{Y(387)} L{X(2035)},{Y(399)} Z",
                   fillcolor="#2030e0", line=dict(color="#2030e0", width=1)))


def rrect(x0, y0, x1, y1, r, fill, line, lw=1.5):
    rx, ry = r / W, r / H
    a, b, c, d = X(x0), X(x1), Y(y0), Y(y1)
    p = (f"M{a + rx},{c} L{b - rx},{c} Q{b},{c} {b},{c - ry} L{b},{d + ry} Q{b},{d} {b - rx},{d} "
         f"L{a + rx},{d} Q{a},{d} {a},{d + ry} L{a},{c - ry} Q{a},{c} {a + rx},{c} Z")
    return dict(type="path", xref="paper", yref="paper", path=p, fillcolor=fill,
                line=dict(color=line, width=lw))


BOXF, BOXL = "#fffef6", "#8a8a8a"
shapes.append(rrect(725, 909, 1454, 934, 7, BOXF, BOXL))
shapes.append(rrect(1463, 907, 1658, 952, 8, BOXF, BOXL))
shapes.append(rrect(1671, 907, 1810, 952, 8, BOXF, BOXL))
shapes.append(rrect(1823, 907, 2036, 952, 8, BOXF, BOXL))
pill_cols = ["#1414ee", "#14d4e4", "#9c1aa0"]
pill_x = [729, 912, 1097]
for px0, pc in zip(pill_x, pill_cols):
    shapes.append(rrect(px0, 912, px0 + 32, 931, 9, pc, pc, 1))
shapes.append(rrect(1864, 912, 1897, 931, 9, "#1414ee", "#1414ee", 1))
shapes.append(dict(type="rect", xref="paper", yref="paper", x0=X(1474), x1=X(1486), y0=Y(951), y1=Y(934),
                   fillcolor="#f7a21b", line=dict(width=0)))

anns = []
fig.add_trace(go.Scatter(x=[pulse_start_ns + head_ns, pulse_end_ns - head_ns], y=[-4.20, -4.20],
                         mode="markers", hoverinfo="skip",
                         marker=dict(symbol=["triangle-left", "triangle-right"], size=20, color=MAG,
                                     line=dict(width=0))))
anns.append(dict(x=344, y=-4.68, xref="x", yref="y", text=pulse_label, showarrow=False,
                 font=dict(family="Open Sans", size=54, color=MAG, weight=600),
                 xanchor="center", yanchor="middle"))
anns.append(dict(x=X(742), y=Y(37), xref="paper", yref="paper", text="PreVu", showarrow=False,
                 font=dict(family="DejaVu Sans", size=18, color="#a9b9e6"), xanchor="left", yanchor="middle"))
anns.append(dict(x=X(870.5), y=Y(66), xref="paper", yref="paper", text="<b>T</b>", showarrow=False,
                 font=dict(family="DejaVu Sans", size=11, color="white"), xanchor="center", yanchor="middle"))

text_cols = ["#2a2ae0", "#18d8e6", "#b02cc0"]
for (num, lab), px0, tc in zip(status_ch, pill_x, text_cols):
    anns.append(dict(x=X(px0 + 16), y=Y(922), xref="paper", yref="paper", text=f"<b>{num}</b>",
                     showarrow=False, font=dict(family="DejaVu Sans", size=14, color="white"),
                     xanchor="center", yanchor="middle"))
    anns.append(dict(x=X(px0 + 56), y=Y(922), xref="paper", yref="paper", text=lab, showarrow=False,
                     font=dict(family="DejaVu Sans", size=19, color=tc), xanchor="left", yanchor="middle"))
GB = "#8797c6"
anns.append(dict(x=X(1475), y=Y(921), xref="paper", yref="paper", text=status_time[0], showarrow=False,
                 font=dict(family="DejaVu Sans", size=19, color=GB), xanchor="left", yanchor="middle"))
anns.append(dict(x=X(1480), y=Y(943), xref="paper", yref="paper", text="<b>T</b>", showarrow=False,
                 font=dict(family="DejaVu Sans", size=11, color="white"), xanchor="center", yanchor="middle"))
anns.append(dict(x=X(1487), y=Y(942), xref="paper", yref="paper", text="\u2192\u25bc " + status_time[1],
                 showarrow=False, font=dict(family="DejaVu Sans", size=19, color="#f29a22"),
                 xanchor="left", yanchor="middle"))
anns.append(dict(x=X(1678), y=Y(921), xref="paper", yref="paper", text=status_rate[0], showarrow=False,
                 font=dict(family="DejaVu Sans", size=19, color=GB), xanchor="left", yanchor="middle"))
anns.append(dict(x=X(1678), y=Y(942), xref="paper", yref="paper", text=status_rate[1], showarrow=False,
                 font=dict(family="DejaVu Sans", size=19, color=GB), xanchor="left", yanchor="middle"))
anns.append(dict(x=X(1880.5), y=Y(922), xref="paper", yref="paper", text=f"<b>{status_trig[0]}</b>",
                 showarrow=False, font=dict(family="DejaVu Sans", size=14, color="white"),
                 xanchor="center", yanchor="middle"))
anns.append(dict(x=X(1914), y=Y(921), xref="paper", yref="paper", text=status_trig[1], showarrow=False,
                 font=dict(family="DejaVu Sans", size=19, color=GB), xanchor="left", yanchor="middle"))

ax_common = dict(visible=False, showgrid=False, zeroline=False, fixedrange=True)
fig.update_layout(
    width=W, height=H, margin=dict(l=0, r=0, t=0, b=0),
    paper_bgcolor="white", plot_bgcolor="rgba(0,0,0,0)", showlegend=False,
    xaxis=dict(domain=[X(727), X(2037)], range=[0, 1000], anchor="y", **ax_common),
    yaxis=dict(domain=[Y(900), Y(47)], range=[-5, 5], anchor="x", **ax_common),
    xaxis2=dict(domain=[X(13), X(728)], range=[83.34, 160.2], anchor="y2", **ax_common),
    yaxis2=dict(domain=[Y(846), Y(8)], range=[-3.14, 3.73], anchor="x2", **ax_common),
    shapes=shapes, annotations=anns,
)

fig.write_html("out.html", config={"displayModeBar": False},
               post_script="document.body.style.margin='0px';document.body.style.overflow='hidden';")
